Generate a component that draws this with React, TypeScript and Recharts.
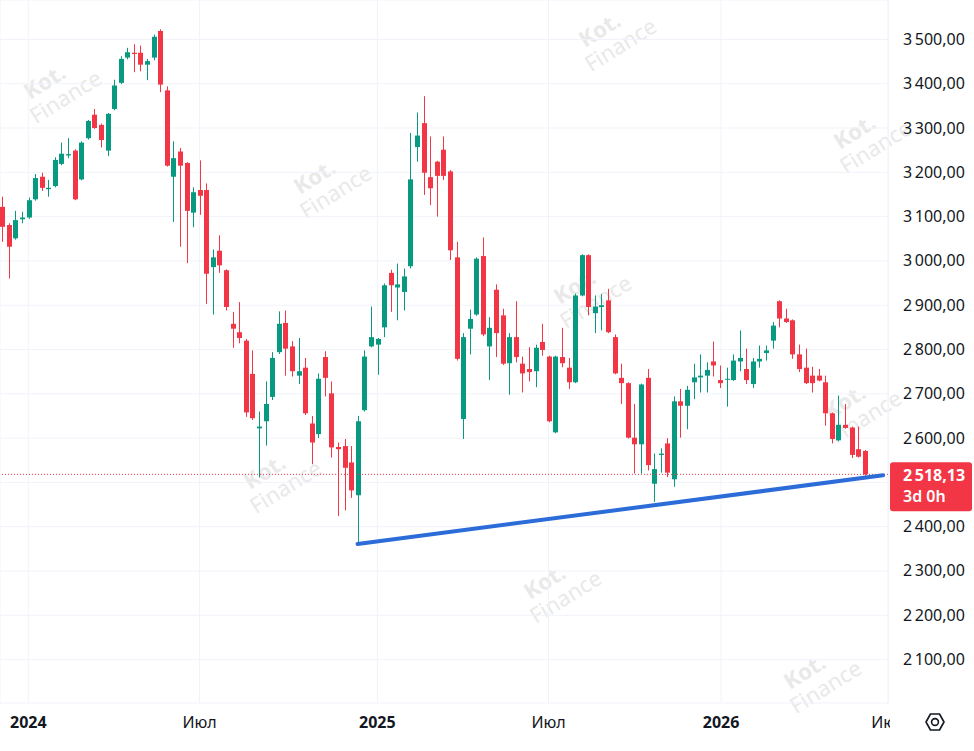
import { ComposedChart, Bar, XAxis, YAxis, CartesianGrid, ReferenceLine } from 'recharts';

// weekly candles, oldest first
const OPEN = [
  3122, 3081, 3051, 3094, 3098, 3139, 3190, 3162, 3169, 3219, 3238, 3249, 3184, 3277, 3330, 3307, 3249, 3343, 3402, 3459,
  3470, 3470, 3443, 3459, 3519, 3385, 3190, 3247, 3221, 3109, 3160, 3160, 2986, 3023, 2979, 2858, 2839, 2820, 2745, 2622,
  2638, 2693, 2794, 2860, 2807, 2741, 2759, 2633, 2609, 2783, 2701, 2580, 2582, 2545, 2471, 2663, 2807, 2811, 2850, 2973,
  2940, 2930, 2988, 3257, 3311, 3189, 3224, 3251, 3202, 3008, 2643, 2847, 2879, 3011, 2807, 2935, 2877, 2769, 2828, 2768,
  2756, 2751, 2817, 2784, 2613, 2783, 2759, 2726, 2922, 3013, 2882, 2896, 2911, 2828, 2736, 2724, 2601, 2586, 2736, 2497,
  2562, 2588, 2507, 2683, 2673, 2726, 2737, 2741, 2773, 2731, 2732, 2731, 2773, 2756, 2722, 2773, 2792, 2820, 2909, 2870,
  2866, 2789, 2759, 2741, 2741, 2726, 2656, 2595, 2630, 2624, 2575, 2571,
];
const HIGH = [
  3145, 3085, 3113, 3111, 3143, 3196, 3199, 3183, 3234, 3267, 3277, 3252, 3270, 3318, 3343, 3310, 3334, 3409, 3462, 3481,
  3489, 3486, 3456, 3511, 3523, 3394, 3270, 3255, 3223, 3166, 3227, 3175, 3026, 3058, 2981, 2885, 2907, 2824, 2798, 2660,
  2728, 2794, 2886, 2888, 2819, 2826, 2781, 2650, 2746, 2796, 2728, 2590, 2598, 2582, 2650, 2798, 2897, 2826, 2949, 2980,
  2994, 2983, 3289, 3335, 3372, 3281, 3226, 3281, 3205, 3043, 2837, 2890, 3008, 3053, 2873, 2947, 2892, 2837, 2909, 2784,
  2805, 2811, 2858, 2786, 2786, 2849, 2781, 2926, 3015, 3015, 2922, 2925, 2937, 2834, 2768, 2726, 2677, 2723, 2756, 2565,
  2577, 2600, 2694, 2711, 2718, 2768, 2789, 2771, 2818, 2764, 2759, 2789, 2843, 2802, 2781, 2809, 2809, 2862, 2911, 2892,
  2868, 2811, 2802, 2761, 2756, 2741, 2658, 2696, 2677, 2626, 2626, 2573,
];
const LOW = [
  3043, 2960, 3048, 3085, 3095, 3136, 3158, 3145, 3166, 3216, 3232, 3137, 3182, 3274, 3298, 3256, 3237, 3340, 3399, 3455,
  3426, 3428, 3408, 3453, 3381, 3213, 3088, 3032, 2995, 3076, 3104, 2903, 2879, 2973, 2888, 2804, 2814, 2648, 2641, 2511,
  2583, 2686, 2790, 2741, 2739, 2722, 2652, 2541, 2600, 2694, 2556, 2424, 2437, 2465, 2361, 2660, 2805, 2743, 2828, 2885,
  2866, 2888, 2983, 3224, 3149, 3126, 3100, 3183, 3002, 2775, 2598, 2789, 2876, 2830, 2731, 2783, 2765, 2698, 2771, 2703,
  2728, 2715, 2786, 2636, 2611, 2760, 2711, 2724, 2920, 2877, 2837, 2843, 2837, 2744, 2677, 2599, 2520, 2520, 2527, 2456,
  2522, 2512, 2490, 2601, 2620, 2688, 2703, 2703, 2739, 2713, 2671, 2729, 2751, 2722, 2713, 2759, 2775, 2802, 2850, 2860,
  2779, 2749, 2722, 2703, 2728, 2628, 2588, 2593, 2621, 2555, 2556, 2515,
];
const CLOSE = [
  3077, 3032, 3092, 3098, 3137, 3187, 3165, 3165, 3228, 3242, 3241, 3139, 3267, 3316, 3300, 3273, 3332, 3396, 3456, 3471,
  3467, 3443, 3451, 3506, 3398, 3215, 3232, 3215, 3113, 3155, 3147, 2971, 3008, 2990, 2896, 2847, 2826, 2658, 2645, 2626,
  2677, 2781, 2858, 2802, 2751, 2751, 2656, 2590, 2734, 2736, 2579, 2575, 2533, 2482, 2638, 2784, 2828, 2824, 2945, 2945,
  2947, 2965, 3184, 3283, 3199, 3164, 3192, 3192, 3024, 2779, 2828, 2869, 3005, 2834, 2849, 2837, 2768, 2828, 2783, 2746,
  2749, 2804, 2799, 2638, 2784, 2769, 2726, 2922, 3013, 2896, 2897, 2900, 2839, 2746, 2724, 2601, 2586, 2721, 2539, 2530,
  2565, 2522, 2683, 2673, 2709, 2737, 2741, 2754, 2764, 2724, 2734, 2775, 2781, 2731, 2773, 2779, 2798, 2854, 2870, 2862,
  2789, 2756, 2724, 2724, 2730, 2656, 2598, 2630, 2623, 2562, 2558, 2518.13,
];

const Y_TICKS = [2100, 2200, 2300, 2400, 2500, 2600, 2700, 2800, 2900, 3000, 3100, 3200, 3300, 3400, 3500];
const X_TICKS = [4, 30, 57, 83, 109.2, 134.6];
const X_LABELS = ['2024', 'Июл', '2025', 'Июл', '2026', 'Июл'];
const YEAR_LABELS = ['2024', '2025', '2026'];

// support line: from the low candle to just past the last one
const TREND_FROM = { i: 54, price: 2361 };
const TREND_TO = { i: 133.8, price: 2516 };
const LAST_CLOSE = CLOSE[CLOSE.length - 1];
const TIMER = '3d 0h';

const GREEN = '#089981';
const RED = '#F23645';
const TEXT = '#131722';
const FONT = '"Noto Sans", "Open Sans", sans-serif';

const candles = OPEN.map((open, i) => ({ i, open, high: HIGH[i], low: LOW[i], close: CLOSE[i] }));

const fmt = (v: number) => {
  const [int, dec] = v.toFixed(2).split('.');
  return int.replace(/\B(?=(\d{3})+(?!\d))/g, '\u202f') + ',' + dec;
};

const Candle = (props: any) => {
  const { x, y, width, height, payload } = props;
  const { open, close, high, low } = payload;
  const top = Math.min(y, y + height);
  const span = Math.abs(height);
  const k = high === low ? 0 : span / (high - low);
  const py = (p: number) => top + (high - p) * k;
  const color = close >= open ? GREEN : RED;
  const cx = Math.round(x + width / 2) + 0.5;
  const bodyTop = py(Math.max(open, close));
  const bodyH = Math.max(1, py(Math.min(open, close)) - bodyTop);
  return (
    <g>
      <line x1={cx} x2={cx} y1={top} y2={top + span} stroke={color} strokeWidth={1} />
      <rect x={cx - 2.5} y={bodyTop} width={5} height={bodyH} fill={color} />
    </g>
  );
};

const XTick = (props: any) => {
  const { x, payload } = props;
  const label = X_LABELS[X_TICKS.indexOf(payload.value)] ?? '';
  const bold = YEAR_LABELS.includes(label);
  return (
    <g>
      <defs>
        <clipPath id={`xclip-${payload.value}`}>
          <rect x={0} y={700} width={890} height={50} />
        </clipPath>
      </defs>
      <text
        x={x}
        y={728}
        textAnchor="middle"
        fill={TEXT}
        fontSize={16}
        fontWeight={bold ? 700 : 400}
        fontFamily={FONT}
        clipPath={`url(#xclip-${payload.value})`}
      >
        {label}
      </text>
    </g>
  );
};

const YTick = (props: any) => {
  const { y, payload } = props;
  if (Math.abs(payload.value - LAST_CLOSE) < 40) return <g />;
  return (
    <text x={903} y={y + 5.5} textAnchor="start" fill={TEXT} fontSize={16} fontFamily={FONT}>
      {fmt(payload.value)}
    </text>
  );
};

const PriceBadge = (props: any) => {
  const { viewBox } = props;
  const bx = viewBox.x + viewBox.width + 2;
  const by = viewBox.y - 12;
  return (
    <g>
      <rect x={bx} y={by} width={82} height={49} rx={3} fill={RED} />
      <text x={bx + 13} y={by + 19} fill="#fff" fontSize={16} fontWeight={700} fontFamily={FONT}>
        {fmt(LAST_CLOSE)}
      </text>
      <text x={bx + 13} y={by + 40} fill="#fff" fontSize={16} fontWeight={600} fontFamily={FONT}>
        {TIMER}
      </text>
    </g>
  );
};

const WATERMARKS = [
  [585, 48], [30, 100], [300, 195], [840, 150], [560, 305], [250, 490], [830, 420], [530, 600], [790, 690],
];

export default function App() {
  return (
    <div style={{ position: 'relative', width: 974, height: 751, background: '#fff' }}>
      <style>{'body{margin:0}'}</style>
      <svg width={974} height={751} style={{ position: 'absolute', left: 0, top: 0 }}>
        {WATERMARKS.map(([wx, wy], n) => (
          <g key={n} transform={`translate(${wx},${wy}) rotate(-32)`} fill="#e9e9e9" fontFamily={FONT}>
            <text x={0} y={0} fontSize={22} fontWeight={700}>Kot.</text>
            <text x={-8} y={24} fontSize={22}>Finance</text>
          </g>
        ))}
        <g transform="translate(935,722)" fill="none" stroke={TEXT} strokeWidth={1.6}>
          <polygon points="-9,0 -4.5,-8 4.5,-8 9,0 4.5,8 -4.5,8" strokeLinejoin="round" />
          <circle r={3.4} />
        </g>
      </svg>
      <div style={{ position: 'absolute', left: 0, top: 0 }}>
        <ComposedChart width={974} height={751} data={candles} margin={{ top: 0, right: 0, bottom: 0, left: 0 }}>
          <CartesianGrid stroke="#f0f3fa" ticks={Y_TICKS} />
          <XAxis
            type="number"
            dataKey="i"
            domain={[-0.3, 134.55]}
            ticks={X_TICKS}
            interval={0}
            allowDataOverflow
            height={48}
            axisLine={false}
            tickLine={false}
            tick={<XTick />}
          />
          <YAxis
            orientation="right"
            domain={[2002, 3589]}
            ticks={Y_TICKS}
            interval={0}
            allowDataOverflow
            width={86}
            axisLine={false}
            tickLine={false}
            tick={<YTick />}
          />
          <Bar dataKey={(d: any) => [d.low, d.high]} barSize={5} shape={<Candle />} isAnimationActive={false} />
          <ReferenceLine
            y={LAST_CLOSE}
            stroke={RED}
            strokeDasharray="1 2"
            strokeWidth={1}
            label={<PriceBadge />}
          />
          <ReferenceLine
            segment={[
              { x: TREND_FROM.i, y: TREND_FROM.price },
              { x: TREND_TO.i, y: TREND_TO.price },
            ]}
            stroke="#2B6CD8"
            strokeWidth={4}
            strokeLinecap="round"
            ifOverflow="visible"
          />
        </ComposedChart>
      </div>
    </div>
  );
}
